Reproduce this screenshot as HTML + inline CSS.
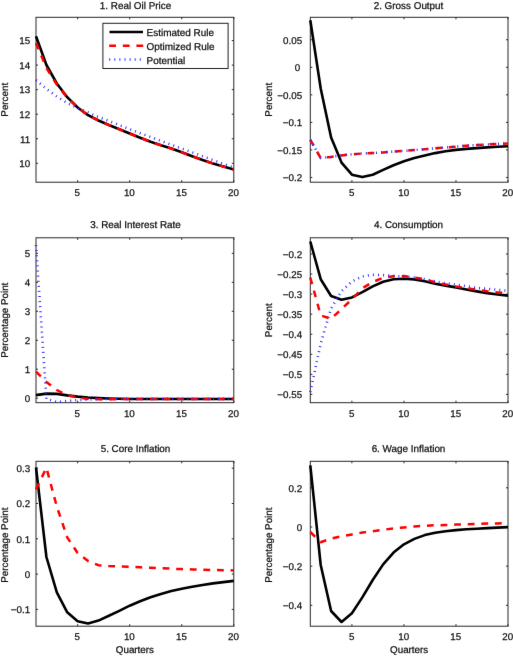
<!DOCTYPE html>
<html><head><meta charset="utf-8"><style>
html,body{margin:0;padding:0;background:#fff;overflow:hidden}
body{width:513px;height:656px}
svg{display:block}
</style></head><body>
<svg width="513" height="656" viewBox="0 0 513 656">
<defs><filter id="b" x="0" y="0" width="513" height="656" filterUnits="userSpaceOnUse" color-interpolation-filters="sRGB"><feConvolveMatrix order="3" kernelMatrix="0.0035 0.0587 0.0035 0.0587 1.0000 0.0587 0.0035 0.0587 0.0035" edgeMode="duplicate" preserveAlpha="true"/></filter></defs>
<g filter="url(#b)">
<rect width="513" height="656" fill="#fff"/>
<g text-rendering="geometricPrecision" font-family='"Liberation Sans", sans-serif' font-size="9.8" fill="#111" stroke="#111" stroke-width="0.25">
<text x="135.5" y="8.8" text-anchor="middle" font-size="9.9">1. Real Oil Price</text>
<text transform="translate(8.4,99.75) rotate(-90)" text-anchor="middle">Percent</text>
<text x="30.1" y="167.05" text-anchor="end">10</text>
<text x="30.1" y="142.5" text-anchor="end">11</text>
<text x="30.1" y="117.95" text-anchor="end">12</text>
<text x="30.1" y="93.4" text-anchor="end">13</text>
<text x="30.1" y="68.85" text-anchor="end">14</text>
<text x="30.1" y="44.3" text-anchor="end">15</text>
<text x="77.34" y="196.1" text-anchor="middle">5</text>
<text x="129.39" y="196.1" text-anchor="middle">10</text>
<text x="181.45" y="196.1" text-anchor="middle">15</text>
<text x="233.5" y="196.1" text-anchor="middle">20</text>
<text x="408.5" y="8.8" text-anchor="middle" font-size="9.9">2. Gross Output</text>
<text transform="translate(271.5,99.75) rotate(-90)" text-anchor="middle">Percent</text>
<text x="302.1" y="43.51" text-anchor="end">0.05</text>
<text x="300.1" y="71.05" text-anchor="end">0</text>
<text x="302.1" y="98.59" text-anchor="end">−0.05</text>
<text x="302.1" y="126.13" text-anchor="end">−0.1</text>
<text x="302.1" y="153.67" text-anchor="end">−0.15</text>
<text x="302.1" y="181.21" text-anchor="end">−0.2</text>
<text x="351.62" y="196.1" text-anchor="middle">5</text>
<text x="403.65" y="196.1" text-anchor="middle">10</text>
<text x="455.67" y="196.1" text-anchor="middle">15</text>
<text x="507.7" y="196.1" text-anchor="middle">20</text>
<text x="135.5" y="227.7" text-anchor="middle" font-size="9.9">3. Real Interest Rate</text>
<text transform="translate(8.4,320.25) rotate(-90)" text-anchor="middle">Percentage Point</text>
<text x="30.1" y="401.95" text-anchor="end">0</text>
<text x="30.1" y="372.98" text-anchor="end">1</text>
<text x="30.1" y="344.01" text-anchor="end">2</text>
<text x="30.1" y="315.04" text-anchor="end">3</text>
<text x="30.1" y="286.07" text-anchor="end">4</text>
<text x="30.1" y="257.1" text-anchor="end">5</text>
<text x="77.34" y="416.6" text-anchor="middle">5</text>
<text x="129.39" y="416.6" text-anchor="middle">10</text>
<text x="181.45" y="416.6" text-anchor="middle">15</text>
<text x="233.5" y="416.6" text-anchor="middle">20</text>
<text x="408.5" y="227.7" text-anchor="middle" font-size="9.9">4. Consumption</text>
<text transform="translate(271.5,320.25) rotate(-90)" text-anchor="middle">Percent</text>
<text x="302.1" y="257.72" text-anchor="end">−0.2</text>
<text x="302.1" y="277.78" text-anchor="end">−0.25</text>
<text x="302.1" y="297.84" text-anchor="end">−0.3</text>
<text x="302.1" y="317.9" text-anchor="end">−0.35</text>
<text x="302.1" y="337.96" text-anchor="end">−0.4</text>
<text x="302.1" y="358.02" text-anchor="end">−0.45</text>
<text x="302.1" y="378.08" text-anchor="end">−0.5</text>
<text x="302.1" y="398.14" text-anchor="end">−0.55</text>
<text x="351.62" y="416.6" text-anchor="middle">5</text>
<text x="403.65" y="416.6" text-anchor="middle">10</text>
<text x="455.67" y="416.6" text-anchor="middle">15</text>
<text x="507.7" y="416.6" text-anchor="middle">20</text>
<text x="135.5" y="451.5" text-anchor="middle" font-size="9.9">5. Core Inflation</text>
<text transform="translate(8.4,545.15) rotate(-90)" text-anchor="middle">Percentage Point</text>
<text x="134.9" y="653.2" text-anchor="middle">Quarters</text>
<text x="30.1" y="613.15" text-anchor="end">−0.1</text>
<text x="30.1" y="577.85" text-anchor="end">0</text>
<text x="30.1" y="542.55" text-anchor="end">0.1</text>
<text x="30.1" y="507.25" text-anchor="end">0.2</text>
<text x="30.1" y="471.95" text-anchor="end">0.3</text>
<text x="77.34" y="640.1" text-anchor="middle">5</text>
<text x="129.39" y="640.1" text-anchor="middle">10</text>
<text x="181.45" y="640.1" text-anchor="middle">15</text>
<text x="233.5" y="640.1" text-anchor="middle">20</text>
<text x="408.5" y="451.5" text-anchor="middle" font-size="9.9">6. Wage Inflation</text>
<text transform="translate(271.5,545.15) rotate(-90)" text-anchor="middle">Percentage Point</text>
<text x="409.15" y="653.2" text-anchor="middle">Quarters</text>
<text x="302.1" y="609.06" text-anchor="end">−0.4</text>
<text x="302.1" y="569.89" text-anchor="end">−0.2</text>
<text x="302.1" y="530.72" text-anchor="end">0</text>
<text x="302.1" y="491.55" text-anchor="end">0.2</text>
<text x="351.62" y="640.1" text-anchor="middle">5</text>
<text x="403.65" y="640.1" text-anchor="middle">10</text>
<text x="455.67" y="640.1" text-anchor="middle">15</text>
<text x="507.7" y="640.1" text-anchor="middle">20</text>
</g>
<g fill="none" stroke="#2a2a2a" stroke-width="1">
<rect x="36" y="17.3" width="197.8" height="164.9"/>
<path d="M77.64,17.3v2M77.64,182.2v-2M129.69,17.3v2M129.69,182.2v-2M181.75,17.3v2M181.75,182.2v-2M233.8,17.3v2M233.8,182.2v-2M36,163.3h2M233.8,163.3h-2M36,138.75h2M233.8,138.75h-2M36,114.2h2M233.8,114.2h-2M36,89.65h2M233.8,89.65h-2M36,65.1h2M233.8,65.1h-2M36,40.55h2M233.8,40.55h-2"/>
<rect x="310.3" y="17.3" width="197.7" height="164.9"/>
<path d="M351.92,17.3v2M351.92,182.2v-2M403.95,17.3v2M403.95,182.2v-2M455.97,17.3v2M455.97,182.2v-2M508,17.3v2M508,182.2v-2M310.3,39.76h2M508,39.76h-2M310.3,67.3h2M508,67.3h-2M310.3,94.84h2M508,94.84h-2M310.3,122.38h2M508,122.38h-2M310.3,149.92h2M508,149.92h-2M310.3,177.46h2M508,177.46h-2"/>
<rect x="36" y="237.8" width="197.8" height="164.9"/>
<path d="M77.64,237.8v2M77.64,402.7v-2M129.69,237.8v2M129.69,402.7v-2M181.75,237.8v2M181.75,402.7v-2M233.8,237.8v2M233.8,402.7v-2M36,398.2h2M233.8,398.2h-2M36,369.23h2M233.8,369.23h-2M36,340.26h2M233.8,340.26h-2M36,311.29h2M233.8,311.29h-2M36,282.32h2M233.8,282.32h-2M36,253.35h2M233.8,253.35h-2"/>
<rect x="310.3" y="237.8" width="197.7" height="164.9"/>
<path d="M351.92,237.8v2M351.92,402.7v-2M403.95,237.8v2M403.95,402.7v-2M455.97,237.8v2M455.97,402.7v-2M508,237.8v2M508,402.7v-2M310.3,253.97h2M508,253.97h-2M310.3,274.03h2M508,274.03h-2M310.3,294.09h2M508,294.09h-2M310.3,314.15h2M508,314.15h-2M310.3,334.21h2M508,334.21h-2M310.3,354.27h2M508,354.27h-2M310.3,374.33h2M508,374.33h-2M310.3,394.39h2M508,394.39h-2"/>
<rect x="36" y="461.3" width="197.8" height="164.9"/>
<path d="M77.64,461.3v2M77.64,626.2v-2M129.69,461.3v2M129.69,626.2v-2M181.75,461.3v2M181.75,626.2v-2M233.8,461.3v2M233.8,626.2v-2M36,609.4h2M233.8,609.4h-2M36,574.1h2M233.8,574.1h-2M36,538.8h2M233.8,538.8h-2M36,503.5h2M233.8,503.5h-2M36,468.2h2M233.8,468.2h-2"/>
<rect x="310.3" y="461.3" width="197.7" height="164.9"/>
<path d="M351.92,461.3v2M351.92,626.2v-2M403.95,461.3v2M403.95,626.2v-2M455.97,461.3v2M455.97,626.2v-2M508,461.3v2M508,626.2v-2M310.3,605.31h2M508,605.31h-2M310.3,566.14h2M508,566.14h-2M310.3,526.97h2M508,526.97h-2M310.3,487.8h2M508,487.8h-2"/>
</g>
<g fill="none" stroke-linejoin="round">
<path d="M36,36.2 L46.41,65 L56.82,83.5 L67.23,97.2 L77.64,107.5 L88.05,115.2 L98.46,120.5 L108.87,125 L119.28,129.2 L129.69,133.5 L140.11,137.7 L150.52,141.8 L160.93,145.3 L171.34,148.5 L181.75,152.3 L192.16,156.2 L202.57,160 L212.98,163.5 L223.39,166.6 L233.8,169.5" stroke="#000" stroke-width="2.6"/>
<path d="M36,43 L46.41,68 L56.82,84.5 L67.23,97.5 L77.64,107.5 L88.05,115.2 L98.46,120.5 L108.87,125 L119.28,129.2 L129.69,133.5 L140.11,137.7 L150.52,141.8 L160.93,145.3 L171.34,148.5 L181.75,152.3 L192.16,156.2 L202.57,160 L212.98,163.5 L223.39,166.6 L233.8,169.5" stroke="#f00" stroke-width="2.5" stroke-dasharray="6.8 6.8"/>
<path d="M36,80.1 L46.41,88.8 L56.82,96.6 L67.23,103 L77.64,107.9 L88.05,112.5 L98.46,117 L108.87,121 L119.28,125 L129.69,129.2 L140.11,133.2 L150.52,137 L160.93,140.9 L171.34,144.7 L181.75,148.5 L192.16,152.3 L202.57,156.2 L212.98,160 L223.39,163.9 L233.8,167.7" stroke="#3030ff" stroke-width="2.6" stroke-dasharray="1.0 4.1"/>
</g>
<g fill="none" stroke-linejoin="round">
<path d="M310.3,20.3 L320.71,88.5 L331.11,137.4 L341.52,162.6 L351.92,174.7 L362.33,177.1 L372.73,174.7 L383.14,169.9 L393.54,165.2 L403.95,161.3 L414.35,158.1 L424.76,155.4 L435.16,153.1 L445.57,151.3 L455.97,149.9 L466.38,148.9 L476.78,148.1 L487.19,147.4 L497.59,146.8 L508,146.2" stroke="#000" stroke-width="2.6"/>
<path d="M310.3,139.8 L320.71,158 L331.11,156.9 L341.52,155.4 L351.92,154.3 L362.33,153.5 L372.73,153 L383.14,152.4 L393.54,151.5 L403.95,150.9 L414.35,150 L424.76,149.2 L435.16,148.3 L445.57,147.5 L455.97,146.6 L466.38,145.8 L476.78,145.1 L487.19,144.5 L497.59,143.9 L508,143.4" stroke="#f00" stroke-width="2.5" stroke-dasharray="6.8 6.8"/>
<path d="M310.3,139.8 L320.71,158 L331.11,156.9 L341.52,155.4 L351.92,154.3 L362.33,153.5 L372.73,153 L383.14,152.4 L393.54,151.5 L403.95,150.9 L414.35,150 L424.76,149.2 L435.16,148.3 L445.57,147.5 L455.97,146.6 L466.38,145.8 L476.78,145.1 L487.19,144.5 L497.59,143.9 L508,143.4" stroke="#3030ff" stroke-width="2.6" stroke-dasharray="1.0 4.1"/>
</g>
<g fill="none" stroke-linejoin="round">
<path d="M36,395.1 L46.41,393.6 L56.82,393.9 L67.23,395.4 L77.64,396.6 L88.05,397.5 L98.46,398.1 L108.87,398.5 L119.28,398.8 L129.69,399 L140.11,399 L150.52,399 L160.93,399 L171.34,399 L181.75,399 L192.16,399 L202.57,399 L212.98,399 L223.39,399 L233.8,399" stroke="#000" stroke-width="2.6"/>
<path d="M36,371.7 L46.41,382 L56.82,390 L67.23,395.2 L77.64,397.6 L88.05,398.9 L98.46,399.2 L108.87,399.2 L119.28,399.1 L129.69,399.1 L140.11,399.1 L150.52,399.1 L160.93,399.1 L171.34,399.1 L181.75,399.1 L192.16,399.1 L202.57,399.1 L212.98,399.1 L223.39,399.1 L233.8,399.1" stroke="#f00" stroke-width="2.5" stroke-dasharray="6.8 6.8"/>
<path d="M36,245.1 L46.41,399 L56.82,402 L67.23,401 L77.64,400.1 L88.05,399.6 L98.46,399.2 L108.87,398.9 L119.28,398.9 L129.69,398.9 L140.11,398.9 L150.52,398.9 L160.93,398.9 L171.34,398.9 L181.75,398.9 L192.16,398.9 L202.57,398.9 L212.98,398.9 L223.39,398.9 L233.8,398.9" stroke="#3030ff" stroke-width="2.6" stroke-dasharray="1.0 4.1"/>
</g>
<g fill="none" stroke-linejoin="round">
<path d="M310.3,241.5 L320.71,279.2 L331.11,296 L341.52,299.8 L351.92,297.4 L362.33,292.1 L372.73,286.4 L383.14,281.7 L393.54,279.3 L403.95,278.7 L414.35,279.4 L424.76,281.2 L435.16,283.7 L445.57,285.6 L455.97,287.4 L466.38,289.5 L476.78,291.4 L487.19,293.1 L497.59,294.5 L508,295.6" stroke="#000" stroke-width="2.6"/>
<path d="M310.3,277.5 L320.71,315.4 L331.11,318.8 L341.52,309 L351.92,299.3 L362.33,288.2 L372.73,282 L383.14,277.8 L393.54,276.3 L403.95,276.1 L414.35,277.5 L424.76,279.3 L435.16,282.3 L445.57,284.4 L455.97,286.5 L466.38,288.1 L476.78,289.7 L487.19,291.3 L497.59,292.4 L508,293.3" stroke="#f00" stroke-width="2.5" stroke-dasharray="6.8 6.8"/>
<path d="M310.3,392 L320.71,343.5 L331.11,308.5 L341.52,291.2 L351.92,281.5 L362.33,276.4 L372.73,274.8 L383.14,275.1 L393.54,275.9 L403.95,276.5 L414.35,277.6 L424.76,279.1 L435.16,281.4 L445.57,283.2 L455.97,284.7 L466.38,286.2 L476.78,287.9 L487.19,288.8 L497.59,289.8 L508,290.8" stroke="#3030ff" stroke-width="2.6" stroke-dasharray="1.0 4.1"/>
</g>
<g fill="none" stroke-linejoin="round">
<path d="M36,467.5 L46.41,557 L56.82,592.3 L67.23,612.3 L77.64,621.2 L88.05,623.5 L98.46,620.6 L108.87,615.8 L119.28,610.8 L129.69,605.7 L140.11,601.3 L150.52,597.3 L160.93,594 L171.34,591 L181.75,588.8 L192.16,586.8 L202.57,585 L212.98,583.4 L223.39,582.1 L233.8,580.9" stroke="#000" stroke-width="2.6"/>
<path d="M36,489.4 L46.41,467.8 L56.82,506.6 L67.23,537.4 L77.64,553 L88.05,561 L98.46,565.2 L108.87,566 L119.28,566.4 L129.69,566.8 L140.11,567.3 L150.52,567.8 L160.93,568.2 L171.34,568.7 L181.75,569.1 L192.16,569.4 L202.57,569.7 L212.98,570 L223.39,570.2 L233.8,570.4" stroke="#f00" stroke-width="2.5" stroke-dasharray="6.8 6.8"/>
</g>
<g fill="none" stroke-linejoin="round">
<path d="M310.3,465.3 L320.71,565 L331.11,611 L341.52,622 L351.92,613.3 L362.33,597.4 L372.73,580 L383.14,564.4 L393.54,552.6 L403.95,544.3 L414.35,538.9 L424.76,535.1 L435.16,532.8 L445.57,531.2 L455.97,530.1 L466.38,529.3 L476.78,528.7 L487.19,528.1 L497.59,527.6 L508,527.1" stroke="#000" stroke-width="2.6"/>
<path d="M310.3,532 L320.71,542.2 L331.11,538.6 L341.52,536.2 L351.92,534.4 L362.33,532.6 L372.73,531.3 L383.14,529.8 L393.54,528.4 L403.95,527.4 L414.35,526.5 L424.76,525.8 L435.16,525.3 L445.57,525 L455.97,524.6 L466.38,524.2 L476.78,523.9 L487.19,523.6 L497.59,523.4 L508,523.2" stroke="#f00" stroke-width="2.5" stroke-dasharray="6.8 6.8"/>
</g>
<rect x="102.9" y="23.3" width="125.2" height="45.2" fill="#fff" stroke="#222" stroke-width="1"/>
<path d="M109.5,32H143" stroke="#000" stroke-width="2.6"/>
<path d="M109.2,45.8H143.2" stroke="#f00" stroke-width="2.5" stroke-dasharray="6.8 6.8"/>
<path d="M109.2,59.5H143" stroke="#3030ff" stroke-width="2.6" stroke-dasharray="1.0 4.1"/>
<g text-rendering="geometricPrecision" font-family='"Liberation Sans", sans-serif' font-size="9.8" fill="#111" stroke="#111" stroke-width="0.25">
<text x="146.6" y="36.2" font-size="9.95">Estimated Rule</text>
<text x="146.6" y="50" font-size="9.95">Optimized Rule</text>
<text x="146.6" y="63.8" font-size="9.95">Potential</text>
</g>
</g>
</svg>
</body></html>
